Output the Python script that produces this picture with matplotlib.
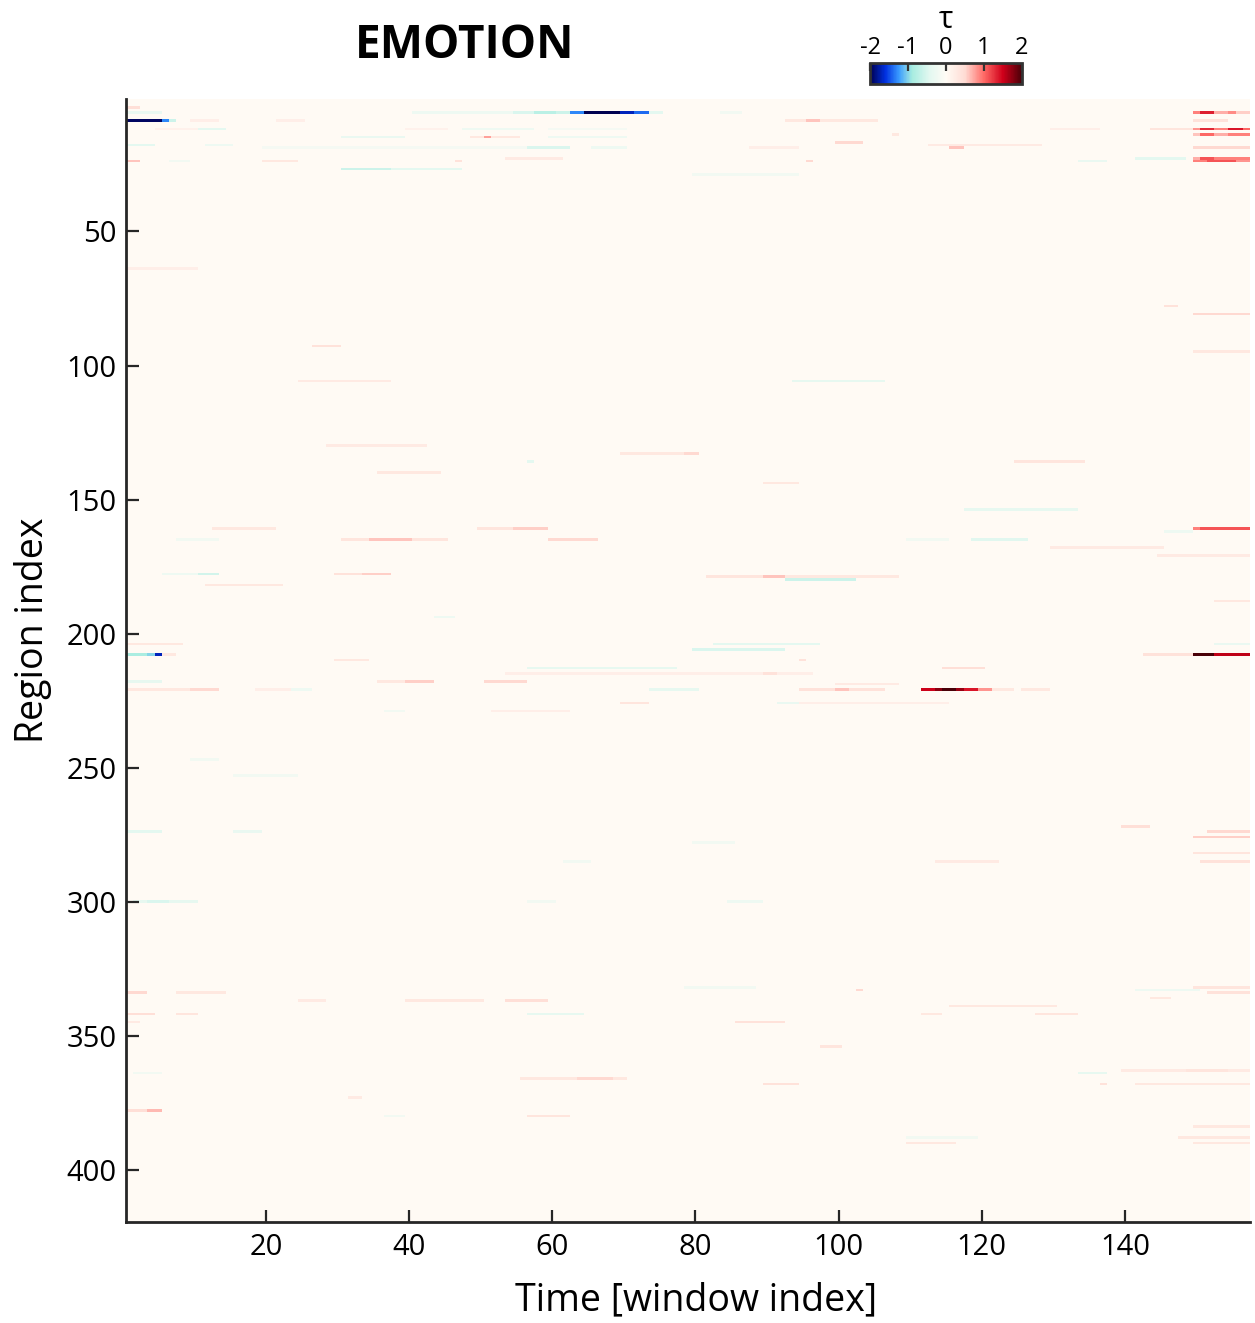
import numpy as np
import matplotlib
matplotlib.use('Agg')
import matplotlib.pyplot as plt
from matplotlib.colors import LinearSegmentedColormap

N_REGIONS = 419
N_WINDOWS = 157

# streaks of non-zero tau:
# region index, first window, last window, tau value
streak_region = [
    4, 6, 6, 6, 6, 6, 6, 6, 6, 6, 6, 6, 6, 6, 6, 6, 6,
    9, 9, 9, 9, 9, 9, 9, 9, 9,
    12, 12, 12, 12, 12, 12, 12, 12, 12, 12, 12, 12,
    14, 14, 14, 14, 14, 15, 15, 15, 15, 15,
    17, 18, 18, 18, 19, 19, 19, 19, 19, 19,
    23, 23, 23, 23, 23, 24, 24, 24, 24, 24, 24, 24, 24, 24,
    27, 27, 29,
    64, 78, 81, 93, 95, 106, 106, 130, 133, 133, 136, 136, 140, 144, 154,
    161, 161, 161, 161, 161, 162, 165, 165, 165, 165, 165, 165, 165, 168, 171,
    178, 178, 178, 178, 179, 179, 179, 180, 182, 188, 194,
    204, 204, 204, 206, 208, 208, 208, 208, 208, 208, 208, 210, 210, 213, 213, 215, 215,
    218, 218, 218, 218, 219,
    221, 221, 221, 221, 221, 221, 221, 221, 221, 221, 221, 221, 221, 221, 221, 221,
    226, 226, 226, 229, 229,
    247, 253, 272, 274, 274, 274, 276, 278, 282, 285, 285, 285,
    300, 300, 300, 300, 300, 332, 332, 333, 333, 334, 334, 334, 336,
    337, 337, 337, 339, 342, 342, 342, 342, 342, 345, 345, 354,
    363, 363, 364, 364, 366, 366, 366, 368, 368, 368,
    373, 378, 378, 380, 380, 384, 388, 388, 390, 390,
]
streak_first = [
    1, 1, 41, 55, 58, 61, 63, 65, 70, 72, 74, 84, 150, 151, 153, 155, 156,
    1, 6, 7, 10, 22, 93, 96, 98, 150,
    5, 11, 40, 48, 60, 130, 144, 150, 151, 153, 155, 157,
    108, 150, 151, 153, 155, 31, 49, 51, 52, 60,
    100, 1, 12, 113, 20, 57, 66, 88, 116, 150,
    54, 142, 150, 151, 153, 1, 7, 20, 47, 96, 134, 150, 152, 156,
    31, 38, 80,
    1, 146, 150, 27, 150, 25, 94, 29, 70, 79, 57, 125, 36, 90, 118,
    13, 50, 55, 150, 151, 146, 8, 31, 35, 41, 60, 110, 119, 130, 145,
    6, 11, 30, 34, 82, 90, 93, 93, 12, 153, 44,
    1, 83, 153, 80, 1, 4, 5, 6, 143, 150, 153, 30, 95, 57, 115, 54, 90,
    1, 36, 40, 51, 100,
    1, 10, 19, 24, 74, 95, 100, 102, 112, 114, 115, 117, 118, 120, 122, 126,
    70, 92, 95, 37, 52,
    10, 16, 140, 1, 16, 152, 150, 80, 150, 62, 114, 151,
    2, 4, 7, 57, 85, 79, 150, 103, 142, 1, 8, 152, 144,
    25, 40, 54, 116, 1, 8, 57, 112, 128, 1, 86, 98,
    140, 149, 2, 134, 56, 64, 69, 90, 137, 142,
    32, 1, 4, 37, 57, 150, 110, 148, 110, 150,
]
streak_last = [
    2, 5, 54, 57, 60, 62, 64, 69, 71, 73, 75, 86, 150, 152, 154, 155, 157,
    5, 6, 7, 13, 25, 95, 97, 105, 154,
    10, 14, 45, 57, 70, 136, 149, 150, 152, 154, 156, 157,
    108, 150, 152, 154, 157, 39, 50, 51, 55, 70,
    103, 4, 15, 128, 56, 62, 70, 94, 117, 157,
    61, 148, 150, 152, 157, 2, 9, 24, 47, 96, 137, 151, 155, 157,
    37, 47, 94,
    10, 147, 157, 30, 157, 37, 106, 42, 78, 80, 57, 134, 44, 94, 133,
    21, 54, 59, 150, 157, 149, 13, 34, 40, 45, 66, 115, 126, 145, 157,
    10, 13, 33, 37, 89, 92, 108, 102, 22, 157, 46,
    8, 97, 157, 92, 3, 4, 5, 7, 149, 152, 157, 34, 95, 77, 120, 96, 91,
    5, 39, 43, 56, 108,
    9, 13, 23, 26, 80, 99, 101, 106, 113, 114, 116, 117, 119, 121, 124, 129,
    73, 94, 115, 39, 62,
    13, 24, 143, 5, 19, 157, 157, 85, 157, 65, 122, 157,
    3, 6, 10, 60, 89, 88, 157, 103, 150, 3, 14, 157, 146,
    28, 50, 59, 130, 4, 10, 64, 114, 133, 2, 92, 100,
    157, 154, 5, 137, 63, 68, 70, 94, 137, 157,
    33, 3, 5, 39, 62, 157, 119, 157, 116, 157,
]
streak_tau = [
    0.45, -0.3, -0.25, -0.5, -0.75, -0.6, -1.3, -2.0, -1.7, -1.4, -0.4, -0.2, 0.9, 1.35, 0.7, 0.85, 0.55,
    -1.95, -1.3, -0.6, 0.2, 0.2, 0.3, 0.6, 0.3, 0.4,
    0.15, -0.4, 0.15, -0.25, -0.15, 0.2, 0.35, 0.8, 1.3, 0.9, 1.4, 1.0,
    0.3, 0.6, 1.0, 0.7, 0.9, -0.3, 0.3, 0.75, 0.3, -0.25,
    0.5, -0.4, -0.25, 0.25, -0.15, -0.5, -0.25, 0.2, 0.6, 0.5,
    0.25, -0.4, 0.7, 1.1, 0.9, 0.6, -0.2, 0.3, 0.4, 0.5, -0.3, 0.9, 1.1, 0.8,
    -0.6, -0.4, -0.2,
    0.2, 0.4, 0.5, 0.4, 0.3, 0.25, -0.35, 0.25, 0.3, 0.5, -0.4, 0.35, 0.3, 0.3, -0.35,
    0.3, 0.35, 0.55, 0.9, 1.1, -0.25, -0.2, 0.35, 0.6, 0.35, 0.5, -0.2, -0.45, 0.25, 0.25,
    -0.25, -0.55, 0.4, 0.55, 0.35, 0.6, 0.3, -0.6, 0.3, 0.3, -0.25,
    0.3, -0.4, -0.3, -0.5, -0.85, -1.0, -1.7, 0.3, 0.4, 2.0, 1.55, 0.3, 0.4, -0.35, 0.45, 0.2, 0.4,
    -0.35, 0.3, 0.55, 0.5, 0.25,
    0.3, 0.5, 0.2, -0.25, -0.35, 0.4, 0.6, 0.4, 1.5, 1.75, 2.0, 1.7, 1.4, 0.8, 0.3, 0.3,
    0.35, -0.3, 0.2, -0.2, 0.2,
    -0.2, -0.2, 0.45, -0.4, -0.3, 0.5, 0.55, -0.2, 0.35, -0.2, 0.25, 0.4,
    -0.35, -0.5, -0.35, -0.2, -0.25, -0.2, 0.35, 0.5, -0.25, 0.5, 0.3, 0.4, 0.3,
    0.25, 0.3, 0.45, 0.3, 0.45, 0.35, -0.35, 0.3, 0.35, 0.25, 0.4, 0.35,
    0.25, 0.35, -0.2, -0.35, 0.3, 0.5, 0.3, 0.4, 0.4, 0.3,
    0.25, 0.45, 0.65, -0.2, 0.35, 0.3, -0.2, 0.3, 0.3, 0.3,
]

y_ticks = [50, 100, 150, 200, 250, 300, 350, 400]
x_ticks = [20, 40, 60, 80, 100, 120, 140]
cbar_ticks = [-2, -1, 0, 1, 2]

if not (len(streak_region) == len(streak_first) == len(streak_last) == len(streak_tau)):
    raise ValueError(f'{len(streak_region)} {len(streak_first)} {len(streak_last)} {len(streak_tau)}')

# Build the tau matrix
tau = np.zeros((N_REGIONS, N_WINDOWS))
for r, a, b, v in zip(streak_region, streak_first, streak_last, streak_tau):
    tau[r - 1, a - 1:b] = v

# Colormap: navy - blue - mint - cream - pink - red - dark red
cmap = LinearSegmentedColormap.from_list('tau', [
    (0.0, '#000050'),
    (0.1, '#0030e0'),
    (0.19, '#3a9cff'),
    (0.275, '#a6ece0'),
    (0.39, '#e2f8f0'),
    (0.5, '#fffbf5'),
    (0.625, '#ffdcd4'),
    (0.75, '#ff6a66'),
    (0.875, '#d0001a'),
    (1.0, '#4a0008'),
])

plt.rcParams['font.family'] = ['Open Sans', 'DejaVu Sans']
plt.rcParams['axes.unicode_minus'] = False
fig = plt.figure(figsize=(12.55, 13.23), dpi=100)
ax = fig.add_axes([126.4 / 1255, 101 / 1323, 1123.8 / 1255, 1123.2 / 1323])

im = ax.imshow(tau, cmap=cmap, vmin=-2, vmax=2, aspect='auto', interpolation='nearest',
               extent=[0.5, N_WINDOWS + 0.5, N_REGIONS + 0.5, 0.5])

for side in ['top', 'right']:
    ax.spines[side].set_visible(False)
for side in ['left', 'bottom']:
    ax.spines[side].set_linewidth(2)
    ax.spines[side].set_color('#262626')

ax.set_xticks(x_ticks)
ax.set_yticks(y_ticks)
ax.tick_params(direction='in', length=9, width=1.6, color='#262626', labelsize=21)
ax.tick_params(axis='x', pad=8)
ax.tick_params(axis='y', pad=7)
ax.set_xlabel('Time [window index]', fontsize=27)
ax.set_ylabel('Region index', fontsize=27)
ax.xaxis.set_label_coords(0.507, -0.053)
ax.yaxis.set_label_coords(-0.066, 0.527)

fig.text(465 / 1255, 1 - 46 / 1323, 'EMOTION', fontsize=33, fontweight='bold',
         ha='center', va='center')

# Colorbar
cax = fig.add_axes([870 / 1255, 1 - 84 / 1323, 152 / 1255, 21 / 1323])
cb = fig.colorbar(im, cax=cax, orientation='horizontal', ticks=cbar_ticks)
cb.outline.set_linewidth(2)
cb.outline.set_edgecolor('#333333')
cax.xaxis.set_ticks_position('top')
cax.xaxis.set_label_position('top')
cax.tick_params(direction='in', length=6, width=1.6, color='#333333', labelsize=17, pad=2)
cb.set_label('τ', fontsize=22, labelpad=6)

plt.savefig('out.png', dpi=100)
